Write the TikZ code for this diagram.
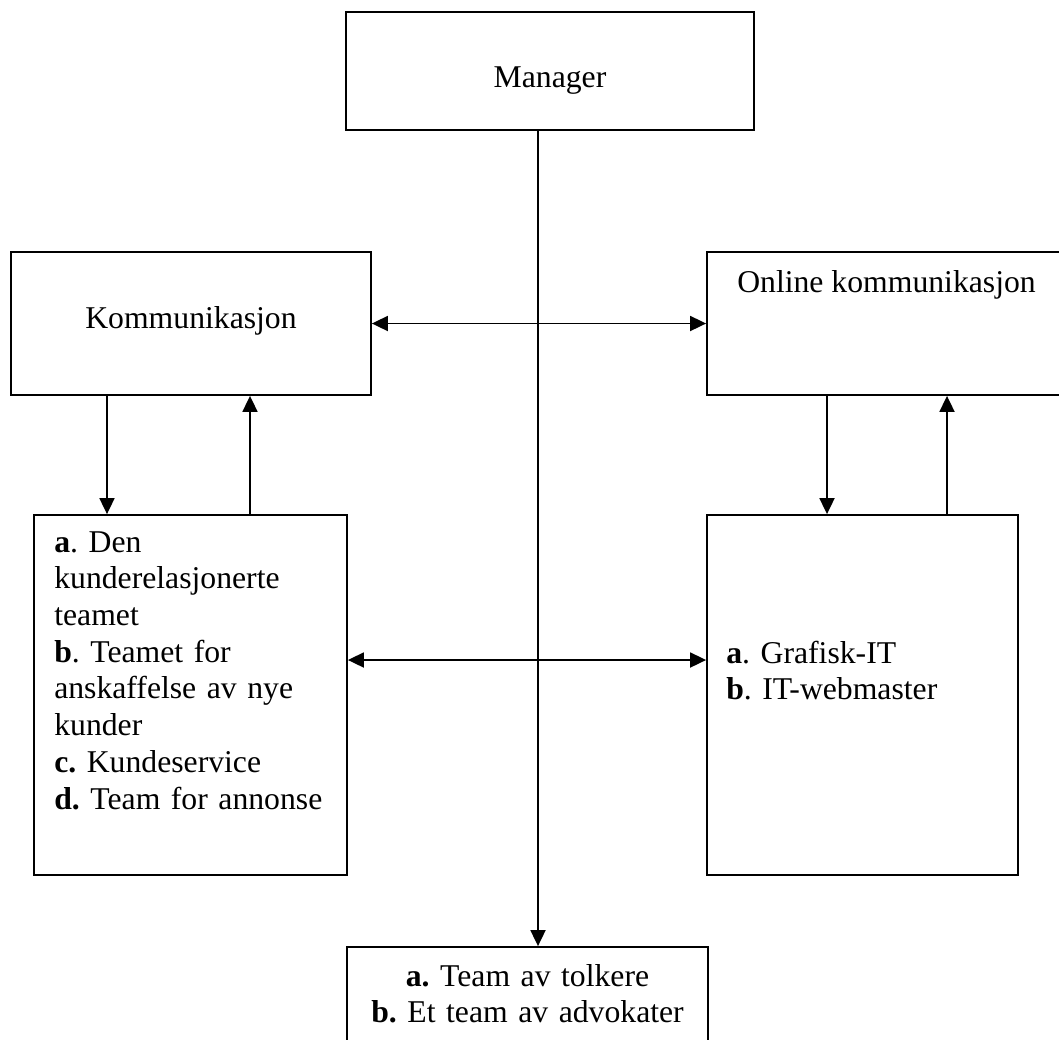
\documentclass[tikz,border=0pt]{standalone}
\usepackage{fontspec}
\setmainfont{Liberation Serif}
\frenchspacing
\usetikzlibrary{arrows.meta,positioning}

\begin{document}
\begin{tikzpicture}[
    x=1pt, y=-1pt,
    every node/.style={font=\fontsize{31.7}{36.7}\selectfont},
    box/.style={draw, line width=1.8pt, inner sep=0pt},
    txt/.style={inner sep=0pt},
    flow/.style={-{Triangle[length=16pt,width=15pt]}, line width=1.8pt},
    link/.style={{Triangle[length=16pt,width=15pt]}-{Triangle[length=16pt,width=15pt]}, line width=1.8pt}
]
\useasboundingbox (0,0) rectangle (1059,1039);
\clip (0,0) rectangle (1059,1039);
\node[box, minimum width=408pt, minimum height=118pt] (manager) at (550,71) {};
\node[box, minimum width=360pt, minimum height=143pt] (komm) at (191,323.5) {};
\node[box, minimum width=359pt, minimum height=143pt] (online) at (886.5,323.5) {};
\node[box, minimum width=313pt, minimum height=360pt] (kunde) at (190.5,695) {};
\node[box, minimum width=311pt, minimum height=360pt] (web) at (862.5,695) {};
\node[box, minimum width=361pt, minimum height=113pt] (team) at (527.5,1003.5) {};
% texts
\node[txt, anchor=base] (manager-txt) at ([yshift=-76pt]manager.north) {Manager};
\node[txt, anchor=base] (komm-txt) at ([yshift=-77pt]komm.north) {Kommunikasjon};
\node[txt, anchor=base] (online-txt) at ([yshift=-41pt]online.north) {Online kommunikasjon};
\node[txt, anchor=base west, align=left, text width=290pt] (kunde-txt) at ([xshift=21pt,yshift=-38pt]kunde.north west)
    {\textbf{a}. Den\\kunderelasjonerte\\teamet\\\textbf{b}. Teamet for\\anskaffelse av nye\\kunder\\\textbf{c.} Kundeservice\\\textbf{d.} Team for annonse};
\node[txt, anchor=base west, align=left, text width=280pt] (web-txt) at ([xshift=20pt,yshift=-149pt]web.north west)
    {\textbf{a}. Grafisk-IT\\\textbf{b}. IT-webmaster};
\node[txt, anchor=base, align=center, text width=361pt] (team-txt) at ([yshift=-40pt]team.north)
    {\textbf{a.} Team av tolkere\\\textbf{b.} Et team av advokater};
% connectors
\draw[flow] ([xshift=-12pt]manager.south) -- ([xshift=-12pt]manager.south |- team.north);
\draw[link] (komm) -- (online);
\draw[link] ([yshift=35pt]kunde.east) -- ([yshift=35pt]web.west);
\draw[flow] ([xshift=-83.5pt]kunde.north |- komm.south) -- ([xshift=-83.5pt]kunde.north);
\draw[flow] ([xshift=59.5pt]kunde.north) -- ([xshift=59.5pt]kunde.north |- komm.south);
\draw[flow] ([xshift=-35.5pt]web.north |- online.south) -- ([xshift=-35.5pt]web.north);
\draw[flow] ([xshift=84.5pt]web.north) -- ([xshift=84.5pt]web.north |- online.south);
\end{tikzpicture}
\end{document}
